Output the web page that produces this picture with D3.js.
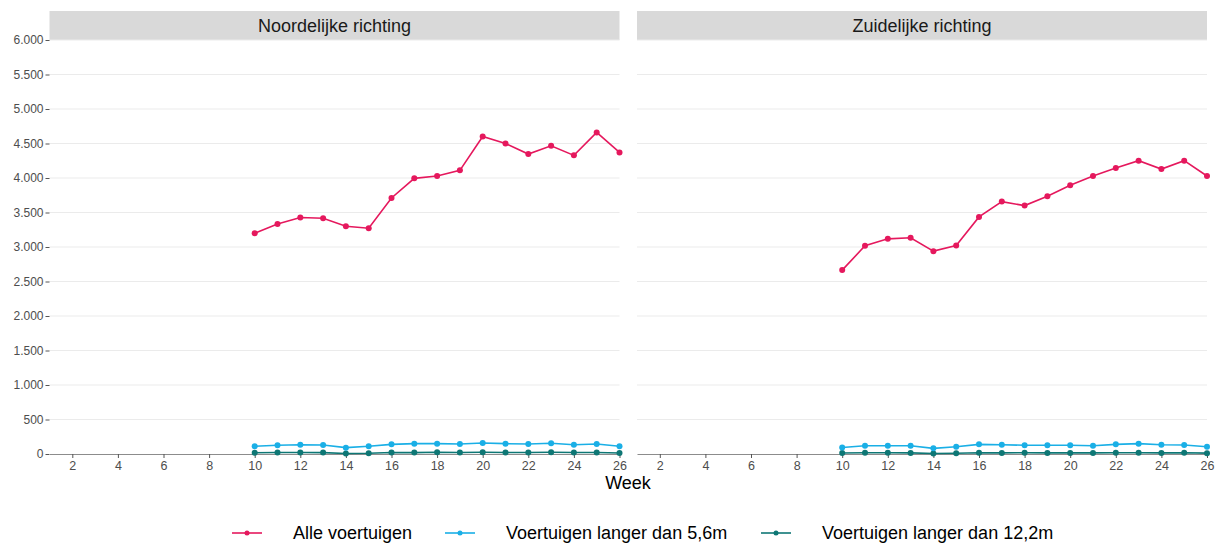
<!DOCTYPE html>
<html>
<head>
<meta charset="utf-8">
<script src="https://d3js.org/d3.v7.min.js"></script>
<style>
  body { margin: 0; background: #fff; }
  text { font-family: "Liberation Sans", Arial, sans-serif; }
</style>
</head>
<body>
<div id="my_dataviz"></div>
<script>

// data
var weeks = [10, 11, 12, 13, 14, 15, 16, 17, 18, 19, 20, 21, 22, 23, 24, 25, 26];
var panels = ["Noordelijke richting", "Zuidelijke richting"];
var seriesNames = ["Alle voertuigen", "Voertuigen langer dan 5,6m", "Voertuigen langer dan 12,2m"];
var seriesColors = ["#e5185d", "#1aafe6", "#0e7775"];

var noordAlle = [3200, 3335, 3427, 3417, 3301, 3272, 3711, 3995, 4029, 4111, 4602, 4501, 4347, 4467, 4328, 4660, 4371];
var noord56   = [112, 126, 135, 130, 92, 112, 140, 150, 150, 145, 160, 150, 145, 155, 135, 145, 112];
var noord122  = [18, 22, 22, 20, 8, 10, 22, 20, 25, 22, 25, 22, 22, 25, 22, 22, 15];

var zuidAlle = [2665, 3017, 3118, 3133, 2940, 3022, 3436, 3658, 3600, 3735, 3894, 4029, 4145, 4251, 4130, 4251, 4029];
var zuid56   = [95, 120, 120, 120, 82, 105, 140, 135, 126, 126, 126, 120, 140, 150, 135, 130, 105];
var zuid122  = [15, 18, 18, 16, 8, 10, 18, 16, 18, 16, 16, 16, 18, 18, 16, 18, 12];

var xTicks = [2, 4, 6, 8, 10, 12, 14, 16, 18, 20, 22, 24, 26];
var yTicks = [0, 500, 1000, 1500, 2000, 2500, 3000, 3500, 4000, 4500, 5000, 5500, 6000];

var panelData = [
  [noordAlle, noord56, noord122],
  [zuidAlle, zuid56, zuid122]
];

var width = 1215, height = 543;
var panelLeft = [49.5, 637];
var panelW = 570;
var plotTop = 40, plotBottom = 454;

var nl = d3.formatLocale({decimal: ",", thousands: ".", grouping: [3], currency: ["€", ""]});
var fmt = nl.format(",");

var svg = d3.select("#my_dataviz")
  .append("svg")
    .attr("width", width)
    .attr("height", height);

var y = d3.scaleLinear().domain([0, 6000]).range([plotBottom, plotTop]);

panels.forEach(function(name, p) {
  var x = d3.scaleLinear().domain([1, 26]).range([panelLeft[p], panelLeft[p] + panelW]);
  var g = svg.append("g");

  // strip
  g.append("rect")
    .attr("x", panelLeft[p]).attr("y", 11)
    .attr("width", panelW).attr("height", 29)
    .attr("fill", "#d9d9d9");
  g.append("text")
    .attr("x", panelLeft[p] + panelW / 2).attr("y", 25.5)
    .attr("text-anchor", "middle")
    .attr("dominant-baseline", "central")
    .style("font-size", "18px")
    .attr("fill", "#1a1a1a")
    .text(name);

  // grid
  g.selectAll(".grid")
    .data(yTicks.slice(1))
    .enter().append("line")
      .attr("x1", panelLeft[p]).attr("x2", panelLeft[p] + panelW)
      .attr("y1", function(d) { return y(d); })
      .attr("y2", function(d) { return y(d); })
      .attr("stroke", "#ebebeb")
      .attr("stroke-width", 1);

  // x axis
  var xa = g.append("g")
    .attr("transform", "translate(0," + plotBottom + ")")
    .call(d3.axisBottom(x).tickValues(xTicks).tickSize(4).tickPadding(3).tickSizeOuter(0));
  xa.select(".domain").attr("stroke", "#8c8c8c").attr("stroke-width", 1.2);
  xa.selectAll(".tick line").attr("stroke", "#555");
  xa.selectAll(".tick text").attr("fill", "#4d4d4d").style("font-size", "12.5px")
    .style("font-family", "'Liberation Sans', Arial, sans-serif");

  // y axis only on the first panel
  if (p == 0) {
    var ya = g.append("g")
      .attr("transform", "translate(" + panelLeft[p] + ",0)")
      .call(d3.axisLeft(y).tickValues(yTicks).tickFormat(fmt).tickSize(4).tickPadding(2));
    ya.select(".domain").remove();
    ya.selectAll(".tick line").attr("stroke", "#555");
    ya.selectAll(".tick text").attr("fill", "#4d4d4d").style("font-size", "12px")
      .style("font-family", "'Liberation Sans', Arial, sans-serif");
  }

  var line = d3.line()
    .x(function(d, i) { return x(weeks[i]); })
    .y(function(d) { return y(d); });

  // draw small series first so the big one sits on top
  [2, 1, 0].forEach(function(s) {
    var vals = panelData[p][s];
    g.append("path")
      .datum(vals)
      .attr("fill", "none")
      .attr("stroke", seriesColors[s])
      .attr("stroke-width", 1.6)
      .attr("d", line);
    g.selectAll(".pt" + s)
      .data(vals)
      .enter().append("circle")
        .attr("cx", function(d, i) { return x(weeks[i]); })
        .attr("cy", function(d) { return y(d); })
        .attr("r", 3)
        .attr("fill", seriesColors[s]);
  });
});

// x axis title
svg.append("text")
  .attr("x", 628).attr("y", 483)
  .attr("text-anchor", "middle")
  .attr("dominant-baseline", "central")
  .style("font-size", "18px")
  .attr("fill", "#000")
  .text("Week");

// legend
var legendX = [232, 445, 761];
seriesNames.forEach(function(n, i) {
  var lg = svg.append("g").attr("transform", "translate(" + legendX[i] + ",533)");
  lg.append("line").attr("x1", 0).attr("x2", 30).attr("y1", 0).attr("y2", 0)
    .attr("stroke", seriesColors[i]).attr("stroke-width", 1.6);
  lg.append("circle").attr("cx", 15).attr("cy", 0).attr("r", 2.5).attr("fill", seriesColors[i]);
  lg.append("text").attr("x", 61).attr("y", 0)
    .attr("dominant-baseline", "central")
    .style("font-size", "18px")
    .attr("fill", "#000")
    .text(n);
});

</script>
</body>
</html>
